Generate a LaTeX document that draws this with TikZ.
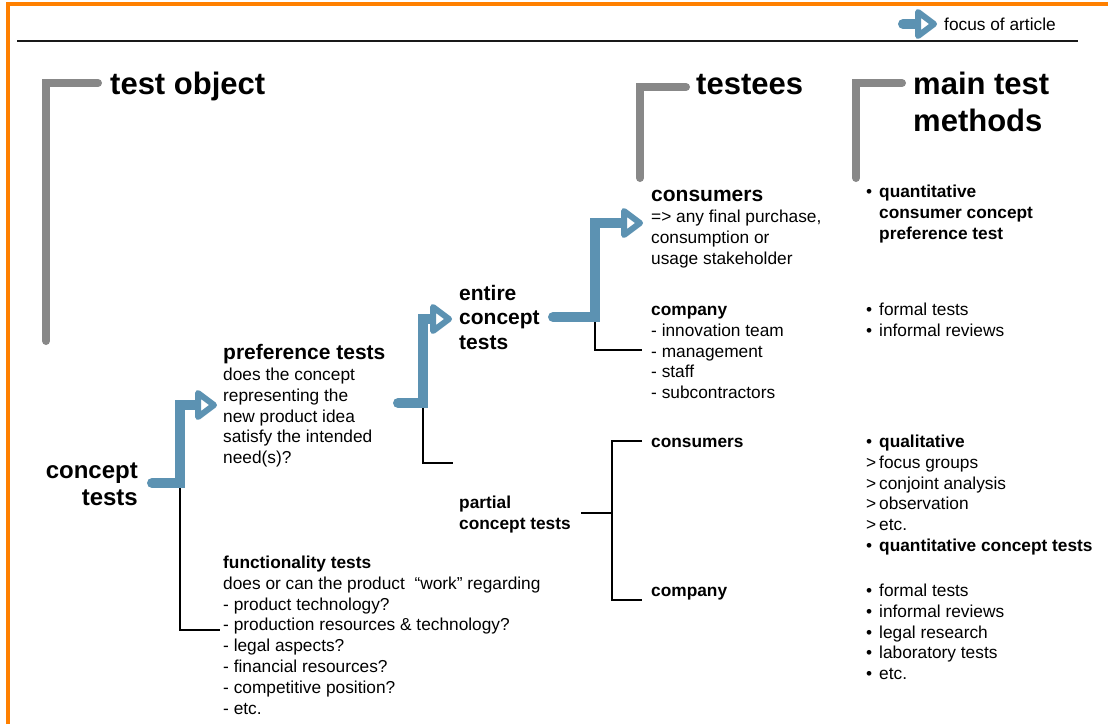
\documentclass[tikz,border=0pt]{standalone}
\usepackage{fontspec}
\setmainfont{Liberation Sans}
\definecolor{borderorange}{RGB}{255,128,0}
\definecolor{arrowblue}{RGB}{92,146,178}
\definecolor{bracketgray}{RGB}{136,136,136}
\tikzset{
  sm/.style={anchor=north west, inner sep=0, align=left, font=\fontsize{17.3}{20.9}\selectfont},
  smline/.style={anchor=base west, inner sep=0, font=\fontsize{17.3}{20.9}\selectfont},
  midline/.style={anchor=base west, inner sep=0, font=\bfseries\fontsize{21}{24.5}\selectfont},
  mid/.style={anchor=north west, inner sep=0, align=left, font=\bfseries\fontsize{21}{24.5}\selectfont},
  bigline/.style={anchor=base west, inner sep=0, font=\bfseries\fontsize{31}{37}\selectfont},
  big/.style={anchor=north west, inner sep=0, align=left, font=\bfseries\fontsize{31}{37}\selectfont},
  grayband/.style={draw=bracketgray, line width=8pt, line cap=round, line join=miter},
  blueshaft/.style={draw=arrowblue, line width=10pt, line cap=round, line join=miter},
  headst/.style={draw=arrowblue, line width=6pt, line join=round, fill=white},
  thinline/.style={draw=black, line width=1.8pt},
  hhead/.pic={\draw[headst] (-16,-12) -- (0,0) -- (-16,12) -- cycle;}
}
\newcommand{\bl}{\makebox[13pt][l]{•}}
\newcommand{\gt}{\makebox[13pt][l]{>}}
\begin{document}
\begin{tikzpicture}[x=1pt,y=-1pt]
\useasboundingbox (0,0) rectangle (1108,724);
% frame
\draw[borderorange, line width=4pt, line join=miter] (8,724) -- (8,4) -- (1108,4);
\draw[line width=2pt, black!90] (17,41) -- (1078,41);

% legend
\coordinate (legs) at (903,24);
\coordinate (legt) at (934,24);
\draw[blueshaft] (legs) -- ([xshift=-16pt]legt);
\pic at (legt) {hhead};
\node[smline] (legtxt) at (944,30) {focus of article};

% gray brackets and headings
\coordinate (g1a) at (46,341); \coordinate (g1b) at (46,83); \coordinate (g1c) at (98,83);
\draw[grayband] (g1a) -- (g1b) -- (g1c);
\node[bigline] (testobject) at (110,94) {test object};
\coordinate (g2a) at (640,178); \coordinate (g2b) at (640,87); \coordinate (g2c) at (686,87);
\draw[grayband] (g2a) -- (g2b) -- (g2c);
\node[bigline] (testees) at (696,94) {testees};
\coordinate (g3a) at (856,178); \coordinate (g3b) at (856,83); \coordinate (g3c) at (902,83);
\draw[grayband] (g3a) -- (g3b) -- (g3c);
\node[big] (methods) at (913,68.1) {\strut main test\\methods};

% concept tests
\node[anchor=north east, inner sep=0, align=right, font=\bfseries\fontsize{24}{27}\selectfont] (concept) at (138,459.6) {\strut concept\\tests};

% arrow 1
\coordinate (a1s) at (152,483);
\coordinate (a1c) at (180,483);
\coordinate (a1u) at (180,405);
\coordinate (a1t) at (214,405);
\draw[thinline] (a1c) -- (180,630) -- (220,630) coordinate (func);
\draw[blueshaft] (a1s) -- (a1c) -- (a1u) -- ([xshift=-16pt]a1t);
\pic at (a1t) {hhead};

\node[midline] (pref) at (223,359.5) {preference tests};
\node[sm] (prefbody) at (223,365.4) {\strut does the concept\\representing the\\new product idea\\satisfy the intended\\need(s)?};
\node[sm] (functionality) at (223,553.4) {\strut\textbf{functionality tests}\\does or can the product\ \ “work” regarding\\- product technology?\\- production resources \& technology?\\- legal aspects?\\- financial resources?\\- competitive position?\\- etc.};

% arrow 2
\coordinate (a2s) at (398,403);
\coordinate (a2c) at (423,403);
\coordinate (a2u) at (423,319);
\coordinate (a2t) at (449,319);
\draw[thinline] (a2c) -- (423,463) -- (453,463) coordinate (partialend);
\draw[blueshaft] (a2s) -- (a2c) -- (a2u) -- ([xshift=-16pt]a2t);
\pic at (a2t) {hhead};

\node[mid] (entire) at (459,282.85) {\strut entire\\concept\\tests};
\node[sm, font=\bfseries\fontsize{17.3}{20.5}\selectfont] (partial) at (459,494.4) {\strut partial\\concept tests};

% arrow 3
\coordinate (a3s) at (553,317);
\coordinate (a3c) at (595,317);
\coordinate (a3u) at (595,223);
\coordinate (a3t) at (640,223);
\draw[thinline] (a3c) -- (595,350) -- (642,350) coordinate (compend);
\draw[blueshaft] (a3s) -- (a3c) -- (a3u) -- ([xshift=-16pt]a3t);
\pic at (a3t) {hhead};

\node[midline] (consumers) at (651,201.5) {consumers};
\node[sm] (consbody) at (651,207.4) {\strut => any final purchase,\\consumption or\\usage stakeholder};
\node[sm] (company) at (651,300.4) {\strut\textbf{company}\\- innovation team\\- management\\- staff\\- subcontractors};

% partial bracket
\coordinate (pb) at (581,513);
\coordinate (pm) at (612,513);
\coordinate (pt) at (642,441);
\coordinate (pbo) at (642,600);
\draw[thinline] (pb) -- (pm);
\draw[thinline] (pt) -- (612,441) -- (612,600) -- (pbo);
\node[smline, font=\bfseries\fontsize{17.3}{20.9}\selectfont] (pcons) at (651,447) {consumers};
\node[smline, font=\bfseries\fontsize{17.3}{20.9}\selectfont] (pcomp) at (651,596) {company};

% methods
\node[sm] (m1) at (866,182.4) {\strut\bl\textbf{quantitative}\\\hspace*{13pt}\textbf{consumer concept}\\\hspace*{13pt}\textbf{preference test}};
\node[sm] (m2) at (866,300.4) {\strut\bl formal tests\\\bl informal reviews};
\node[sm] (m3) at (866,432.4) {\strut\bl\textbf{qualitative}\\\gt focus groups\\\gt conjoint analysis\\\gt observation\\\gt etc.\\\bl\textbf{quantitative concept tests}};
\node[sm] (m4) at (866,581.4) {\strut\bl formal tests\\\bl informal reviews\\\bl legal research\\\bl laboratory tests\\\bl etc.};
\end{tikzpicture}
\end{document}
